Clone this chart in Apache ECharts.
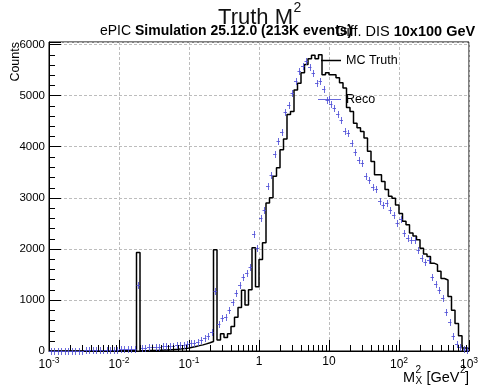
<!DOCTYPE html>
<html><head><meta charset="utf-8">
<script src="https://cdn.jsdelivr.net/npm/echarts@6/dist/echarts.min.js"></script>
<style>html,body{margin:0;padding:0;background:#fff}#c{width:483px;height:385px}</style>
</head><body><div id="c"></div>
<script>
// ---- data (120 log-spaced bins, 20 per decade, from 1e-3 to 1e3 GeV^2) ----
const xRange = [1e-3, 1e3];
const binsPerDecade = 20;
const truthCounts = [
  0,0,0,0,0, 0,0,0,0,0, 0,0,0,1,1, 1,2,2,2,3, 3,3,4,4,5,
  1930,
  5,5,8,10,12,15,18,20,25,30,35,42,50,60,75,90,105,120,140,160,185,
  1980,
  215,340,265,340,480,660,850,1190,900,1200,2020,1260,1790,2120,2900,3000,
  3420,3590,3940,4150,4630,4690,5110,5240,5450,5610,5720,5790,5720,5800,
  5410,5450,5410,5410,5350,5250,5150,4770,4690,4460,4370,4300,4170,3910,
  3710,3450,3450,3320,3160,3030,2990,2860,2690,2540,2470,2310,2250,2180,
  2010,1900,1850,1720,1690,1560,1420,1390,1065,800,540,300,60,50
];
const recoCounts = [
  3,4,4,5,5, 6,6,7,8,9, 10,11,12,14,15, 17,19,21,24,27, 30,33,36,40,44,
  1300,
  60,65,70,75,80,85,90,95,100,105,110,115,125,135,150,165,185,210,250,300,370,
  1180,
  520,650,665,800,950,1130,1300,1450,1520,1650,2300,2010,2600,2770,3235,3450,
  3850,4120,4290,4670,4820,5050,5280,5480,5575,5670,5560,5440,5250,5280,
  5120,4920,4840,4760,4650,4530,4300,4270,4065,3900,3745,3680,3425,3340,
  3210,3165,2928,2863,2896,2770,2667,2504,2580,2307,2209,2170,2170,1975,
  1827,1740,1778,1457,1320,1196,1033,765,570,294,145,85,40,20
];
const yTickValues = [0,1000,2000,3000,4000,5000,6000];
const xDecades = [-3,-2,-1,0,1,2,3];
const xMinorMultipliers = [2,3,4,5,6,7,8,9];
const yMinorStep = 200;

// ---- derived structures ----
const nBins = truthCounts.length;
const binEdges = Array.from({length: nBins + 1}, (_, i) => Math.pow(10, Math.log10(xRange[0]) + i / binsPerDecade));
const truthStep = [];
truthCounts.forEach((v, i) => { truthStep.push([binEdges[i], v], [binEdges[i + 1], v]); });
const recoData = recoCounts.map((v, i) => [binEdges[i], binEdges[i + 1], v]);
const xMinorTicks = [];
xDecades.slice(0, -1).forEach(d => xMinorMultipliers.forEach(m => xMinorTicks.push([m * Math.pow(10, d), 0])));
const yMinorTicks = [];
for (let v = yMinorStep; v < yTickValues[yTickValues.length - 1]; v += yMinorStep) {
  if (v % 1000 !== 0) yMinorTicks.push([xRange[0], v]);
}

const FONT = '"Liberation Sans", Arial, Helvetica, sans-serif';
const RECO_COLOR = 'rgba(80,80,215,0.85)';
const px = v => Math.round(v) + 0.5;

const chart = echarts.init(document.getElementById('c'), null, {renderer: 'canvas'});
chart.setOption({
  animation: false,
  grid: {left: 49, right: 14, top: 42, bottom: 34, show: true, borderColor: '#000', borderWidth: 1},
  xAxis: {
    type: 'log', logBase: 10, min: xRange[0], max: xRange[1], splitNumber: 6,
    axisLine: {lineStyle: {color: '#000', width: 1}},
    axisTick: {inside: true, length: 11, lineStyle: {color: '#000'}},
    splitLine: {show: true, lineStyle: {color: '#bdbdbd', type: [3, 2], width: 1}},
    axisLabel: {
      showMinLabel: true, showMaxLabel: true, margin: 5, color: '#000', fontFamily: FONT, fontSize: 12,
      formatter: v => {
        const n = Math.round(Math.log10(v));
        if (n === 0) return '{b|1}';
        if (n === 1) return '{b|10}';
        return '{b|10}{s|' + n + '}';
      },
      rich: {
        b: {fontFamily: FONT, fontSize: 12, color: '#000'},
        s: {fontFamily: FONT, fontSize: 8.5, color: '#000', padding: [0, 0, 9, 0]}
      }
    }
  },
  yAxis: {
    type: 'value', min: 0, max: 6050, interval: 1000,
    axisLine: {lineStyle: {color: '#000', width: 1}},
    axisTick: {inside: true, length: 12, lineStyle: {color: '#000'}},
    splitLine: {show: true, lineStyle: {color: '#bdbdbd', type: [3, 2], width: 1}},
    axisLabel: {margin: 4, color: '#000', fontFamily: FONT, fontSize: 11.5,
      formatter: v => (yTickValues.indexOf(v) >= 0 ? String(v) : '')}
  },
  series: [
    {
      type: 'line', data: truthStep, symbol: 'none', showSymbol: false, silent: true,
      lineStyle: {color: '#000', width: 1.5}, z: 3
    },
    {
      type: 'custom', data: recoData, silent: true, z: 4,
      dimensions: ['x0', 'x1', 'y'], encode: {x: [0, 1], y: 2},
      renderItem: (params, api) => {
        const p0 = api.coord([api.value(0), api.value(2)]);
        const p1 = api.coord([api.value(1), api.value(2)]);
        const y = px(p0[1]);
        const cx = px((p0[0] + p1[0]) / 2);
        return {type: 'group', children: [
          {type: 'line', shape: {x1: p0[0], y1: y, x2: p1[0], y2: y}, style: {stroke: RECO_COLOR, lineWidth: 1}},
          {type: 'line', shape: {x1: cx, y1: y - 3.5, x2: cx, y2: y + 3.5}, style: {stroke: RECO_COLOR, lineWidth: 1}}
        ]};
      }
    },
    {
      type: 'custom', data: xMinorTicks, silent: true, z: 5, encode: {x: 0, y: 1},
      renderItem: (params, api) => {
        const p = api.coord([api.value(0), api.value(1)]);
        const x = px(p[0]);
        return {type: 'line', shape: {x1: x, y1: p[1], x2: x, y2: p[1] - 6}, style: {stroke: '#000', lineWidth: 1}};
      }
    },
    {
      type: 'custom', data: yMinorTicks, silent: true, z: 5, encode: {x: 0, y: 1},
      renderItem: (params, api) => {
        const p = api.coord([api.value(0), api.value(1)]);
        const y = px(p[1]);
        return {type: 'line', shape: {x1: p[0], y1: y, x2: p[0] + 6, y2: y}, style: {stroke: '#000', lineWidth: 1}};
      }
    }
  ],
  graphic: [
    // subtitle
    {type: 'text', x: 100, y: 31.5, z: 10, style: {
      text: '{n|ePIC }{b|Simulation 25.12.0 (213K events)}', verticalAlign: 'middle',
      rich: {n: {fontFamily: FONT, fontSize: 14, fill: '#000'}, b: {fontFamily: FONT, fontSize: 14, fontWeight: 'bold', fill: '#000'}}
    }},
    {type: 'text', x: 336, y: 31.5, z: 10, style: {
      text: '{n|Diff. DIS }{b|10x100 GeV}', verticalAlign: 'middle',
      rich: {n: {fontFamily: FONT, fontSize: 14.5, fill: '#000'}, b: {fontFamily: FONT, fontSize: 14.5, fontWeight: 'bold', fill: '#000'}}
    }},
    // title
    {type: 'text', x: 293, y: 17.6, z: 11, style: {text: 'Truth M', fontFamily: FONT, fontSize: 22, fill: '#111', align: 'right', verticalAlign: 'middle'}},
    {type: 'text', x: 293.5, y: 8.5, z: 11, style: {text: '2', fontFamily: FONT, fontSize: 14, fill: '#111', align: 'left', verticalAlign: 'middle'}},
    // y axis title
    {type: 'text', x: 9, y: 42, rotation: Math.PI / 2, z: 10, style: {text: 'Counts', fontFamily: FONT, fontSize: 12.5, fill: '#000', align: 'right', verticalAlign: 'top'}},
    // x axis title
    {type: 'text', x: 415, y: 377.5, z: 10, style: {text: 'M', fontFamily: FONT, fontSize: 14.5, fill: '#000', align: 'right', verticalAlign: 'middle'}},
    {type: 'text', x: 415.5, y: 370, z: 10, style: {text: '2', fontFamily: FONT, fontSize: 10, fill: '#000', align: 'left', verticalAlign: 'middle'}},
    {type: 'text', x: 415.5, y: 381, z: 10, style: {text: 'X', fontFamily: FONT, fontSize: 10, fill: '#000', align: 'left', verticalAlign: 'middle'}},
    {type: 'text', x: 459.5, y: 377.5, z: 10, style: {text: '[GeV', fontFamily: FONT, fontSize: 14.5, fill: '#000', align: 'right', verticalAlign: 'middle'}},
    {type: 'text', x: 460, y: 370, z: 10, style: {text: '2', fontFamily: FONT, fontSize: 10, fill: '#000', align: 'left', verticalAlign: 'middle'}},
    {type: 'text', x: 465, y: 377.5, z: 10, style: {text: ']', fontFamily: FONT, fontSize: 14.5, fill: '#000', align: 'left', verticalAlign: 'middle'}},
    // legend
    {type: 'line', z: 10, shape: {x1: 321, y1: 60.5, x2: 341, y2: 60.5}, style: {stroke: '#000', lineWidth: 1.5}},
    {type: 'text', x: 346, y: 61, z: 10, style: {text: 'MC Truth', fontFamily: FONT, fontSize: 12.5, fill: '#000', align: 'left', verticalAlign: 'middle'}},
    {type: 'line', z: 10, shape: {x1: 318, y1: 99.5, x2: 341, y2: 99.5}, style: {stroke: RECO_COLOR, lineWidth: 1}},
    {type: 'line', z: 10, shape: {x1: 329.5, y1: 96, x2: 329.5, y2: 103}, style: {stroke: RECO_COLOR, lineWidth: 1}},
    {type: 'text', x: 346, y: 100, z: 10, style: {text: 'Reco', fontFamily: FONT, fontSize: 12.5, fill: '#000', align: 'left', verticalAlign: 'middle'}}
  ]
});
</script></body></html>
